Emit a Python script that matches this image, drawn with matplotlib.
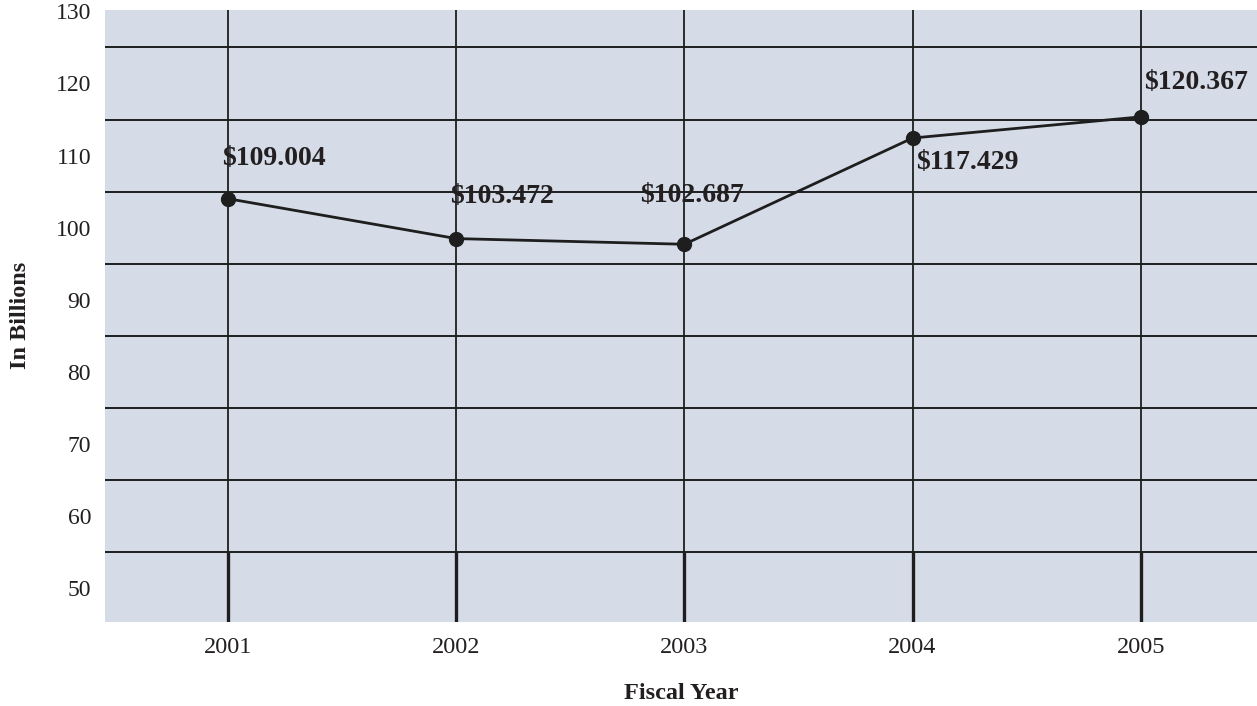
import matplotlib
matplotlib.use("Agg")
import matplotlib.pyplot as plt
from matplotlib.ticker import MultipleLocator, FuncFormatter

# fiscal years and totals (billions of dollars)
years = [2001, 2002, 2003, 2004, 2005]
totals = [109.004, 103.472, 102.687, 117.429, 120.367]
value_labels = ["$109.004", "$103.472", "$102.687", "$117.429", "$120.367"]

# where each value label sits relative to its point, in pixels
label_offsets = [(-6, 28), (-6, 30), (-44, 36), (4, -12), (3, 22)]
label_align = ["bottom", "bottom", "bottom", "top", "bottom"]

plt.rcParams['font.family'] = ['Liberation Serif', 'DejaVu Serif']

fig = plt.figure(figsize=(12.57, 7.06), dpi=100)
ax = fig.add_axes([105 / 1257, 84.3 / 706, 1 - 105 / 1257, 611.7 / 706])
ax.set_facecolor('#D5DCE8')

ax.set_xlim(2000.46, 2005.51)
ax.set_ylim(50.3, 135.2)

# grid lines every 10, tick labels sit half a step above each line
ax.yaxis.set_major_locator(MultipleLocator(10))
ax.yaxis.set_major_formatter(FuncFormatter(lambda v, p: ""))
ax.yaxis.set_minor_locator(MultipleLocator(10, offset=5))
ax.yaxis.set_minor_formatter(FuncFormatter(lambda v, p: f"{v - 5:.0f}"))
ax.grid(axis='y', which='major', color='#1e1e1e', lw=1.4)
ax.tick_params(axis='y', which='both', length=0, labelsize=17, pad=10,
               labelcolor='#231f20')

ax.set_xticks(years)
ax.set_xticklabels([str(y) for y in years])
ax.grid(axis='x', color='#1e1e1e', lw=1.3)
ax.tick_params(axis='x', length=0, labelsize=17.5, pad=11, labelcolor='#231f20')
# heavier stubs below the lowest grid line
ax.vlines(years, 50.3, 60, color='#1e1e1e', lw=2.4, zorder=1.5)

for s in ax.spines.values():
    s.set_visible(False)

ax.plot(years, totals, color='#1e1e1e', lw=2, marker='o', ms=10,
        mfc='#1e1e1e', mec='#1e1e1e', zorder=3)

for x, y, txt, off, va in zip(years, totals, value_labels, label_offsets, label_align):
    ax.annotate(txt, (x, y), xytext=off, textcoords='offset pixels',
                ha='left', va=va, fontsize=20, fontweight='bold',
                color='#231f20', zorder=4)

ax.set_xlabel("Fiscal Year", fontsize=17.5, fontweight='bold', labelpad=18,
              color='#231f20')
ax.set_ylabel("In Billions", fontsize=17.5, fontweight='bold', labelpad=18,
              color='#231f20')

fig.savefig("out.png", dpi=100)
